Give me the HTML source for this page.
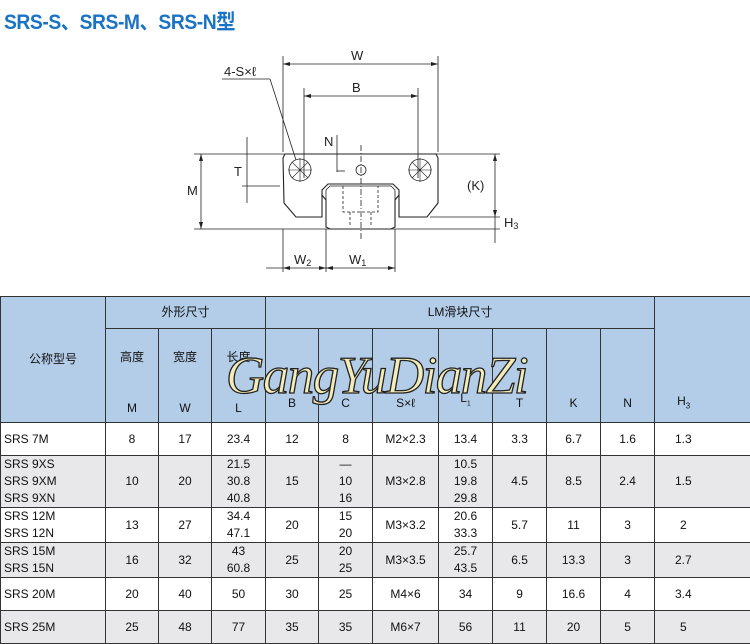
<!DOCTYPE html>
<html><head><meta charset="utf-8"><style>
body{margin:0;width:750px;height:643px;background:#fff;position:relative;overflow:hidden;font-family:"Liberation Sans","Noto Sans CJK SC",sans-serif}
.t{position:absolute;left:4px;top:6px;font-size:21px;font-weight:bold;color:#1a73c4;font-family:"Liberation Sans Narrow","Liberation Sans","Noto Sans CJK SC",sans-serif;letter-spacing:-0.5px;transform:scaleX(0.92);transform-origin:left}
table{position:absolute;left:0;top:296px;border-collapse:collapse;width:751px;table-layout:fixed;font-size:12px;color:#111}
td{border:1px solid #333;text-align:center;padding:0;line-height:17px;font-family:"Liberation Sans Narrow","Liberation Sans","Noto Sans CJK SC",sans-serif}
.h td{background:#b3cde9}
.g td{background:#e8e8ea}
td.l{text-align:left;padding-left:3px}
td.nb{border-right:none}
td.nl{border-left:none}
.wm{position:absolute;left:226px;top:346px;font-family:"Liberation Serif",serif;font-style:italic;font-size:53px;color:#f3ecb8;-webkit-text-stroke:1.3px #222;letter-spacing:-1.5px}
</style></head><body>
<div class="t">SRS-S、SRS-M、SRS-N型</div>
<svg width="750" height="296" style="position:absolute;left:0;top:0" font-family="Liberation Sans,sans-serif" font-size="13" fill="none" stroke="#222" stroke-width="0.8">
<line x1="283" y1="56" x2="283" y2="152"/><line x1="438" y1="56" x2="438" y2="152"/>
<line x1="304" y1="88" x2="304" y2="178"/><line x1="418" y1="88" x2="418" y2="178"/>
<line x1="283" y1="64" x2="438" y2="64"/><line x1="304" y1="96" x2="418" y2="96"/>
<line x1="194" y1="154" x2="500" y2="154"/>
<line x1="194" y1="229" x2="500" y2="229"/>
<line x1="201" y1="154" x2="201" y2="229"/>
<line x1="247" y1="137" x2="247" y2="203"/><line x1="242" y1="186" x2="280" y2="186"/>
<line x1="495" y1="154" x2="495" y2="243"/><line x1="430" y1="217" x2="500" y2="217"/>
<line x1="283" y1="229" x2="283" y2="272"/><line x1="326" y1="229" x2="326" y2="272"/><line x1="395" y1="229" x2="395" y2="272"/>
<line x1="266" y1="268" x2="395" y2="268"/>
<line x1="222" y1="79" x2="270" y2="79"/><line x1="270" y1="79" x2="296" y2="160"/>
<line x1="337" y1="135" x2="337" y2="172"/><line x1="337" y1="171" x2="345" y2="171"/>
<path d="M285 154 L436 154 L438 158 L438 203 L427 217 L399 217 L399 190 L393 184 L328 184 L322 190 L322 217 L296 217 L284 203 L283 158 Z" stroke-width="1.1"/>
<path d="M322 195 L326 200 L326 227 L330 229 L391 229 L395 227 L395 200 L399 195" stroke-width="1.1"/>
<path d="M326 200 L326 190 L330 186 L391 186 L395 190 L395 200" stroke-width="0.8"/>
<circle cx="300" cy="170" r="11"/><circle cx="420" cy="170" r="11"/>
<path d="M292 162 L308 178 M308 162 L292 178 M412 162 L428 178 M428 162 L412 178 M300 158 V182 M288 170 H312 M420 158 V182 M408 170 H432" stroke-width="0.6"/>
<circle cx="361" cy="170" r="5"/>
<line x1="361" y1="145" x2="361" y2="240" stroke-dasharray="6,2,1,2"/>
<path d="M343 186 V212 H378 V186 M350 212 V226 M371 212 V226" stroke-dasharray="3,2"/>
<g fill="#222" stroke="none">
<path d="M283 64 l7 -2 v4z M438 64 l-7 -2 v4z M304 96 l7 -2 v4z M418 96 l-7 -2 v4z M201 154 l-2 7 h4z M201 229 l-2 -7 h4z M495 154 l-2 7 h4z M495 217 l-2 -7 h4z M283 268 l7 -2 v4z M326 268 l-7 -2 v4z M326 268 l7 -2 v4z M395 268 l-7 -2 v4z"/>
<text x="351" y="60" font-size="13">W</text><text x="352" y="92">B</text>
<text x="224" y="76">4-S×ℓ</text><text x="324" y="146">N</text>
<text x="234" y="176">T</text><text x="187" y="195">M</text><text x="467" y="190">(K)</text>
<text x="504" y="227">H<tspan font-size="9" dy="2">3</tspan></text>
<text x="294" y="264">W<tspan font-size="9" dy="2">2</tspan></text>
<text x="349" y="264">W<tspan font-size="9" dy="2">1</tspan></text>
</g></svg>
<table>
<colgroup><col style="width:105px"><col style="width:53px"><col style="width:53px"><col style="width:54px"><col style="width:53px"><col style="width:54px"><col style="width:66px"><col style="width:54px"><col style="width:54px"><col style="width:54px"><col style="width:54px"><col style="width:57px"><col style="width:40px"></colgroup>
<tr class="h" style="height:32px"><td rowspan="2">公称型号</td><td colspan="3">外形尺寸</td><td colspan="7">LM滑块尺寸</td><td rowspan="2" colspan="2" style="text-align:left;vertical-align:bottom;padding:0 0 8px 22px">H<sub style="font-size:8px">3</sub></td></tr>
<tr class="h" style="height:94px"><td style="vertical-align:top;padding-top:20px">高度<br><br><br>M</td><td style="vertical-align:top;padding-top:20px">宽度<br><br><br>W</td><td style="vertical-align:top;padding-top:20px">长度<br><br><br>L</td><td style="vertical-align:bottom;padding-bottom:10px">B</td><td style="vertical-align:bottom;padding-bottom:10px">C</td><td style="vertical-align:bottom;padding-bottom:10px">S×ℓ</td><td style="vertical-align:bottom;padding-bottom:10px">L<sub style="font-size:7px">1</sub></td><td style="vertical-align:bottom;padding-bottom:10px">T</td><td style="vertical-align:bottom;padding-bottom:10px">K</td><td style="vertical-align:bottom;padding-bottom:10px">N</td></tr>
<tr style="height:33px"><td class="l">SRS 7M</td><td>8</td><td>17</td><td>23.4</td><td>12</td><td>8</td><td>M2×2.3</td><td>13.4</td><td>3.3</td><td>6.7</td><td>1.6</td><td class="nb">1.3</td><td class="nl"></td></tr>
<tr class="g" style="height:52px"><td class="l">SRS 9XS<br>SRS 9XM<br>SRS 9XN</td><td>10</td><td>20</td><td>21.5<br>30.8<br>40.8</td><td>15</td><td>—<br>10<br>16</td><td>M3×2.8</td><td>10.5<br>19.8<br>29.8</td><td>4.5</td><td>8.5</td><td>2.4</td><td class="nb">1.5</td><td class="nl"></td></tr>
<tr style="height:35px"><td class="l">SRS 12M<br>SRS 12N</td><td>13</td><td>27</td><td>34.4<br>47.1</td><td>20</td><td>15<br>20</td><td>M3×3.2</td><td>20.6<br>33.3</td><td>5.7</td><td>11</td><td>3</td><td class="nb">2</td><td class="nl"></td></tr>
<tr class="g" style="height:35px"><td class="l">SRS 15M<br>SRS 15N</td><td>16</td><td>32</td><td>43<br>60.8</td><td>25</td><td>20<br>25</td><td>M3×3.5</td><td>25.7<br>43.5</td><td>6.5</td><td>13.3</td><td>3</td><td class="nb">2.7</td><td class="nl"></td></tr>
<tr style="height:33px"><td class="l">SRS 20M</td><td>20</td><td>40</td><td>50</td><td>30</td><td>25</td><td>M4×6</td><td>34</td><td>9</td><td>16.6</td><td>4</td><td class="nb">3.4</td><td class="nl"></td></tr>
<tr class="g" style="height:33px"><td class="l">SRS 25M</td><td>25</td><td>48</td><td>77</td><td>35</td><td>35</td><td>M6×7</td><td>56</td><td>11</td><td>20</td><td>5</td><td class="nb">5</td><td class="nl"></td></tr>
</table>
<div class="wm">GangYuDianZi</div>
</body></html>
